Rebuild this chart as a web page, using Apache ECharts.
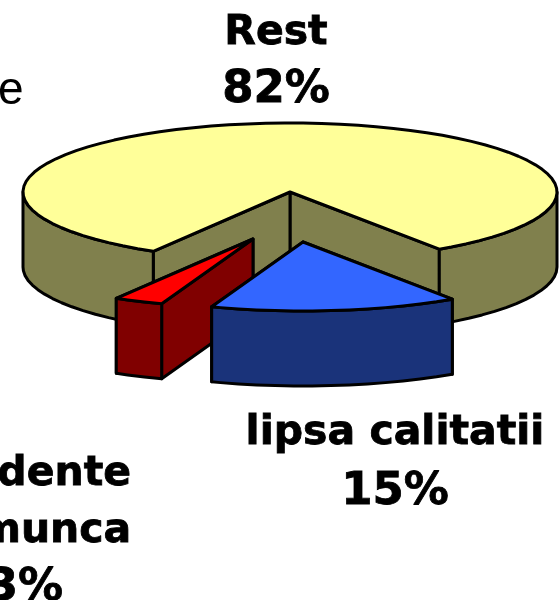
<!DOCTYPE html>
<html>
<head>
<meta charset="utf-8">
<style>
  html, body { margin: 0; padding: 0; background: #fff; overflow: hidden; }
  #main { width: 560px; height: 600px; }
</style>
<script src="https://cdn.jsdelivr.net/npm/echarts@6/dist/echarts.min.js"></script>
</head>
<body>
<div id="main"></div>
<script>
// painted back to front, going counter-clockwise from the start angle
const categories = ["Rest", "accidente\nde munca", "lipsa calitatii"];
const values = [82, 3, 15];

const topColors = ["#ffff99", "#ff0000", "#3366ff"];
const sideColors = ["#80804d", "#800000", "#1a337a"];
const explodeX = [0, -37, 13];
const explodeY = [0, 47, 50];
const nameX = [276, 19, 395];
const nameY = [5, 446, 405];
const percentX = [276, 25, 395];
const percentY = [62, 560, 464];

const centerX = 290;
const centerY = 192;
const radiusX = 267;
const radiusY = 69;
const depth = 75;
const startAngle = 56;

const total = values.reduce((a, b) => a + b, 0);

function rad(deg) {
  return (deg * Math.PI) / 180;
}

function pieces(cx, cy, from, to, color, side) {
  const rim = (a, drop) => [
    cx + radiusX * Math.cos(rad(a)),
    cy + radiusY * Math.sin(rad(a)) + (drop || 0)
  ];
  const line = { stroke: "#000", lineWidth: 3, lineJoin: "round" };
  const poly = (points, fill) => ({
    type: "polygon",
    shape: { points: points },
    style: Object.assign({ fill: fill }, line)
  });
  const arc = (a, b) => {
    const out = [];
    for (let t = a; t < b; t += 4) out.push(t);
    out.push(b);
    return out;
  };

  const parts = [];
  // the two cut faces, the one further back first
  [from, to]
    .sort((a, b) => Math.sin(rad(a)) - Math.sin(rad(b)))
    .forEach((a) => {
      parts.push(
        poly([[cx, cy], rim(a), rim(a, depth), [cx, cy + depth]], side)
      );
    });
  // outer wall, only the part that faces the viewer
  [-360, 0].forEach((k) => {
    const a = Math.max(from, k);
    const b = Math.min(to, k + 180);
    if (a < b) {
      const run = arc(a, b);
      const front = run.map((t) => rim(t));
      const back = run.map((t) => rim(t, depth)).reverse();
      parts.push(poly(front.concat(back), side));
    }
  });
  // top face
  const top = [[cx, cy]].concat(arc(from, to).map((t) => rim(t)));
  parts.push(poly(top, color));
  return parts;
}

function label(x, y, text, size) {
  return {
    type: "text",
    style: {
      x: x,
      y: y,
      text: text,
      font: "bold " + size + 'px "DejaVu Sans"',
      fill: "#000",
      stroke: "#000",
      lineWidth: 0.8,
      align: "center",
      verticalAlign: "top",
      lineHeight: 57
    }
  };
}

function renderSlice(params, api) {
  const i = api.value(0);
  let before = 0;
  for (let k = 0; k < i; k++) before += values[k];
  const to = startAngle - (before / total) * 360;
  const from = to - (api.value(1) / total) * 360;
  const cx = centerX + explodeX[i];
  const cy = centerY + explodeY[i];

  const children = pieces(cx, cy, from, to, topColors[i], sideColors[i]);
  children.push(label(nameX[i], nameY[i], categories[i], 41));
  children.push(
    label(percentX[i], percentY[i], Math.round((api.value(1) / total) * 100) + "%", 45)
  );
  return { type: "group", children: children };
}

const myChart = echarts.init(document.getElementById("main"));
myChart.setOption({
  animation: false,
  backgroundColor: "#fff",
  graphic: [
    {
      type: "text",
      left: -2,
      top: 68,
      style: {
        text: "e",
        font: '46px "Liberation Sans"',
        fill: "#000"
      }
    }
  ],
  series: [
    {
      type: "custom",
      coordinateSystem: "none",
      renderItem: renderSlice,
      silent: true,
      data: values.map((v, i) => [i, v])
    }
  ]
});
</script>
</body>
</html>
